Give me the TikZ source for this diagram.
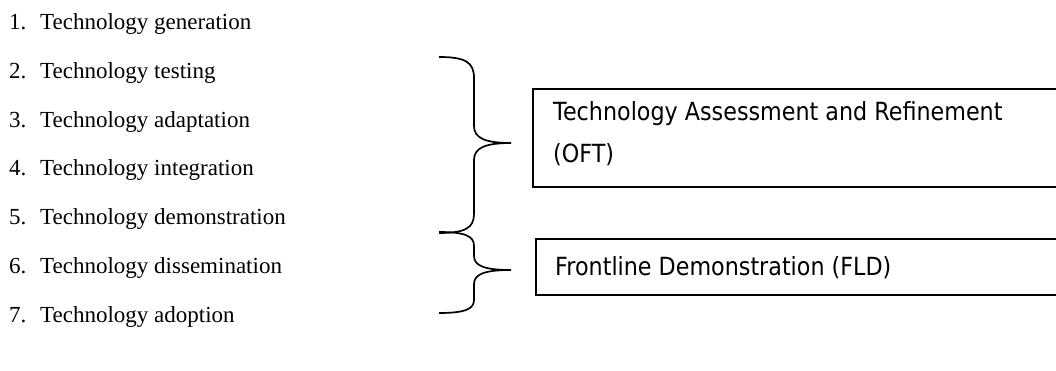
\documentclass[tikz,border=0pt]{standalone}
\usepackage{fontspec}
\setmainfont{Liberation Serif}
\newfontfamily\boxfont[FakeStretch=0.89]{DejaVu Sans}
\begin{document}
\begin{tikzpicture}[x=1pt,y=-1pt,
  listtext/.style={anchor=base west,inner sep=0pt,font=\fontsize{23}{27}\selectfont},
  boxst/.style={draw,line width=1.6pt,anchor=north west,inner sep=0pt},
  boxtext/.style={anchor=base west,inner sep=0pt,font=\boxfont\fontsize{25}{29}\selectfont},
  bracest/.style={line width=1.7pt}]
\useasboundingbox (0,0) rectangle (1056,371);
\clip (0,0) rectangle (1056,371);
% list
\foreach \i/\t/\y in {1/generation/30,2/testing/79,3/adaptation/128,4/integration/176,5/demonstration/225,6/dissemination/273,7/adoption/322}{
  \node[listtext] (n\i) at (9,\y) {\i.};
  \node[listtext] (t\i) at (40,\y) {Technology \t};
}
% braces
\coordinate (tipA) at (511,143);
\coordinate (tipB) at (511,270);
\draw[bracest] (439,57) .. controls (465,57) and (474,62) .. (474,78)
  -- (474,126) .. controls (474,138) and (485,143) .. (tipA)
  .. controls (485,143) and (474,148) .. (474,160)
  -- (474,214) .. controls (474,228) and (465,233) .. (439,233);
\draw[bracest] (439,232) .. controls (465,232) and (474,236) .. (474,246)
  -- (474,256) .. controls (474,266) and (485,270) .. (tipB)
  .. controls (485,270) and (474,274) .. (474,284)
  -- (474,300) .. controls (474,309) and (465,313) .. (439,313);
% boxes
\node[boxst,minimum width=560pt,minimum height=98pt] (b1) at (532,88) {};
\node[boxtext] (b1a) at (553,121) {Technology Assessment and Refinement};
\node[boxtext] (b1b) at (553,163) {(OFT)};
\node[boxst,minimum width=560pt,minimum height=56pt] (b2) at (535,238) {};
\node[boxtext] (b2a) at (555,275) {Frontline Demonstration (FLD)};
\end{tikzpicture}
\end{document}
